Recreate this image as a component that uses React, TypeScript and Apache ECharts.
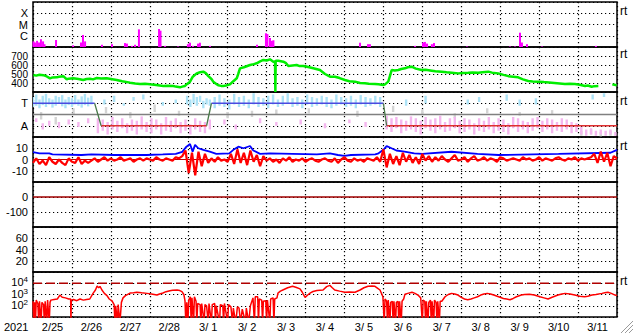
import React, { useEffect, useRef } from "react";
import * as echarts from "echarts";

// ---- axis / labels ----
const dayLabels = ["2/25", "2/26", "2/27", "2/28", "3/ 1", "3/ 2", "3/ 3", "3/ 4", "3/ 5", "3/ 6", "3/ 7", "3/ 8", "3/ 9", "3/10", "3/11"];
const yearLabel = "2021";
const flareClassLabels: Record<number, string> = { 1: "C", 2: "M", 3: "X" };
const sectorLabels: Record<number, string> = { 90: "A", 270: "T" };
const speedLabels = [400, 500, 600, 700];
const imfLabels = [-10, 0, 10];
const dstLabels = [0, -100];
const kpLabels = [20, 40, 60];
const fluxLabels = [2, 3, 4];
const rtMarks = ["rt", "rt", "rt", "rt", "rt"];

// ---- X-ray flares: [hour from 2/25 00UT, log10 flux] ----
const flareBaseLog = -7;
const flares = [
  [0.3, -6.5], [1.2, -6.6], [2.5, -6.45], [3.7, -6.6], [4.9, -6.31], [6.2, -6.5], [7.1, -6.75], [14.2, -6.38],
  [24.7, -6.85], [29.6, -6.6], [30.8, -5.93], [32.1, -6.5], [42.5, -6.8], [48.7, -6.75], [56.7, -6.65], [57.9, -6.7],
  [61, -6.9], [62.9, -6.8], [65.3, -5.43], [77.7, -5.4], [78.6, -5.55], [81.4, -6.9], [89.4, -6.95], [95.5, -6.75],
  [96.8, -6.62], [98.6, -6.9], [101.7, -6.7], [102.9, -6.62], [109.1, -6.9], [138.1, -6.8], [143.6, -5.78], [144.5, -5.85],
  [146.1, -6.2], [147.3, -6.45], [148.2, -6.4], [201.6, -6.62], [206.5, -6.75], [207.7, -6.75], [235.5, -6.9], [240.4, -6.6],
  [241.6, -6.55], [242.9, -6.7], [245.9, -6.75], [247.2, -6.65], [267.5, -6.95], [294, -6.95], [297.1, -6.95], [300.2, -5.73],
  [301.4, -6.6], [304.5, -6.75], [313.8, -6.95], [347, -6.9],
];

// ---- solar wind speed [hour, km/s] ----
const windSpeed = [
  [0.2, 489], [2, 482], [4, 492], [6.4, 487], [8, 478], [10.5, 452], [12, 462], [14.6, 463], [16, 470], [18.7, 476], [20.8, 441],
  [22, 448], [24.9, 452], [28, 445], [31, 433], [33, 445], [35.1, 448], [37, 440], [39.3, 455], [42, 450], [45.4, 452], [48, 445],
  [51.6, 433], [55, 420], [59.8, 404], [63, 395], [66, 389], [69, 392], [72.1, 385], [76, 378], [80.3, 367], [83, 370], [86.5, 367],
  [88, 360], [90.6, 352], [92, 360], [93.7, 367], [95, 390], [96.8, 415], [98.5, 470], [100.9, 507], [103, 520], [105, 526],
  [106.5, 510], [108.1, 476], [110, 445], [111.1, 415], [113, 390], [114.2, 374], [116, 368], [117.3, 367], [119, 372], [121.4, 385],
  [123.5, 420], [125.6, 452], [126.5, 500], [127.6, 563], [130, 575], [133.8, 600], [136, 610], [137.9, 619], [140, 640], [142, 656],
  [144, 650], [146.1, 663], [148.1, 637], [149.2, 640], [149.4, 300], [149.6, 648], [151.2, 648], [154.3, 637], [156, 620],
  [157.4, 589], [160, 595], [162.5, 600], [164, 590], [166.6, 589], [169, 580], [172.8, 563], [176.9, 544], [180, 500], [183.1, 470],
  [186.2, 470], [189, 455], [192.3, 433], [195, 420], [198.5, 415], [201.6, 400], [204.6, 396], [207, 392], [210.8, 389], [213, 385],
  [215.9, 378], [217, 385], [219, 415], [221.1, 544], [223, 538], [225.2, 544], [227, 555], [229.3, 563], [231, 575], [233.4, 581],
  [236, 560], [239.6, 544], [242, 548], [245.8, 537], [248, 530], [251.9, 526], [255, 520], [258.1, 515], [262.2, 507], [265, 512],
  [268.3, 515], [271, 518], [274.5, 515], [277, 520], [280.7, 526], [283, 515], [286.8, 507], [290, 490], [293, 476], [296, 470],
  [299.1, 463], [302, 440], [305.3, 422], [308, 418], [311.5, 415], [315, 410], [319.7, 404], [323, 398], [327.9, 389], [331, 392],
  [334.1, 389], [337, 380], [340.3, 367], [342, 372], [344.4, 359], [346, 365], [348.5, 367], [352, null], [357.1, 385], [359.8, 374],
];

// ---- IMF sector: angle streaks [hour, low deg, high deg] ----
const towardStreaks = [
  [0, 240, 320], [2, 250, 340], [4, 230, 300], [6, 255, 330], [8, 240, 345], [10, 260, 310], [12, 235, 300], [14, 250, 330],
  [16, 270, 320], [18, 245, 335], [20, 230, 300], [22, 255, 320], [24, 240, 310], [26, 260, 335], [28, 250, 300], [30, 235, 325],
  [32, 255, 345], [34, 245, 315], [36, 260, 330], [44, 260, 300], [50, 280, 330], [56, 250, 270], [62, 290, 320], [68, 300, 340],
  [80, 250, 280], [88, 270, 300], [95, 260, 330], [97, 240, 300], [99, 270, 345], [101, 250, 320], [103, 280, 330], [105, 230, 290],
  [107, 260, 310], [109, 250, 300], [112, 230, 320], [115, 250, 340], [118, 240, 310], [121, 220, 300], [124, 260, 345],
  [127, 240, 320], [130, 250, 330], [133, 230, 300], [136, 260, 350], [139, 240, 320], [142, 250, 310], [145, 230, 330],
  [148, 260, 340], [151, 240, 300], [154, 250, 330], [157, 270, 350], [160, 240, 310], [163, 250, 320], [166, 230, 300],
  [169, 260, 340], [172, 240, 320], [175, 250, 310], [178, 260, 330], [181, 240, 320], [184, 230, 300], [187, 250, 340],
  [190, 260, 320], [193, 240, 310], [196, 250, 330], [199, 230, 300], [202, 260, 335], [205, 240, 320], [208, 250, 310],
  [211, 260, 330], [214, 240, 320], [230, 250, 300], [242, 270, 330], [268, 260, 300], [275, 280, 320], [292, 290, 340],
  [300, 250, 300], [310, 260, 310], [345, 300, 340], [352, 320, 350],
];
const awayStreaks = [
  [2, 120, 150], [6, 60, 110], [10, 90, 130], [16, 70, 120], [22, 100, 140], [28, 80, 120], [34, 110, 150],
  [40, 30, 150], [43, 50, 140], [46, 20, 120], [49, 60, 160], [52, 40, 130], [55, 70, 150], [58, 30, 110], [61, 50, 140],
  [64, 20, 130], [67, 60, 165], [70, 40, 120], [73, 30, 150], [76, 60, 140], [79, 20, 110], [82, 50, 160], [85, 40, 130],
  [88, 70, 150], [91, 30, 120], [94, 50, 140], [97, 20, 100], [100, 60, 150], [103, 40, 130], [106, 30, 120], [109, 60, 140],
  [118, 100, 140], [125, 60, 100], [140, 110, 150], [150, 90, 120], [165, 100, 140], [180, 70, 110], [195, 110, 140], [205, 80, 120],
  [218, 60, 170], [221, 40, 150], [224, 70, 160], [227, 30, 140], [230, 50, 130], [233, 60, 165], [236, 40, 150], [239, 20, 130],
  [242, 70, 160], [245, 50, 140], [248, 30, 150], [251, 60, 170], [254, 40, 120], [257, 50, 150], [260, 70, 160], [263, 30, 130],
  [266, 40, 150], [269, 60, 140], [272, 20, 110], [275, 50, 150], [278, 40, 130], [281, 60, 160], [284, 30, 120], [287, 50, 150],
  [290, 40, 140], [293, 20, 110], [296, 70, 160], [299, 40, 150], [302, 60, 130], [305, 30, 120], [308, 50, 150], [311, 70, 160],
  [314, 40, 130], [317, 60, 150], [320, 30, 140], [323, 50, 120], [326, 40, 150], [329, 60, 140], [332, 30, 120], [335, 40, 110],
  [338, 20, 80], [341, 10, 60], [344, 20, 70], [347, 10, 50], [350, 20, 60], [353, 10, 50], [356, 20, 60], [359, 10, 40],
];
const grayStreaks = [
  [5, 140, 200], [14, 100, 160], [25, 180, 230], [45, 190, 240], [60, 150, 200], [75, 200, 260], [90, 170, 210], [120, 150, 200],
  [135, 160, 210], [150, 180, 220], [170, 190, 230], [200, 160, 210], [222, 200, 250], [240, 180, 220], [260, 150, 190],
  [280, 190, 230], [300, 170, 200], [320, 185, 215], [338, 10, 50], [344, 20, 60], [350, 5, 40], [356, 10, 50],
];
const sectorPolarity = [[0, "T"], [38, "T"], [42, "A"], [107, "A"], [110, "T"], [216, "T"], [218, "A"], [360, "A"]];
const sectorAngle: Record<string, number> = { T: 270, A: 90 };
const sectorMid = 180;

// ---- IMF Bt [hour, nT] and Bz every 2 h ----
const bt = [
  [0, 6.5], [4, 5.5], [10, 5.5], [12, 4.5], [30, 4], [36, 4.5], [50, 4], [70, 4], [80, 4.5], [88, 5], [92, 6.8], [94.6, 11.4],
  [96.8, 13.8], [98.4, 7], [99.9, 13], [101.9, 10], [105, 8.6], [109, 7], [113, 5], [121, 5.5], [123.5, 8.6], [126.6, 11.4],
  [129.7, 10], [133.8, 12], [135.8, 8], [140, 5], [146, 5.5], [160, 5], [175, 4.5], [183, 5.5], [188, 4], [192, 3.2], [196, 4],
  [211, 4.5], [213, 5.5], [216, 8.6], [218, 12], [221, 10], [224, 8], [229, 7], [235, 5.5], [240, 5], [258, 6.9], [274, 5],
  [287, 4], [324, 5], [356, 6], [360, 8.6],
];
const bzStepHours = 2;
const bz = [
  -3, 1, -4, -1, -5, 2, -2, -4, 0, -3, -5, 1, -2, -3, 2, -4, -1, -3,
  -1, 1, -2, 0, 2, -1, 1, -1, 0, 2, -1, 0, 1, -2, 0, 1, -1, 1, 0, -1, 2, 0, -1, 1, 0, -1, 2, 1,
  3, 8, -12, 6, -14,
  7, -6, 5, -3,
  1, -2, 2, -1, 0, -2,
  5, -4, 9, -3, 6, -5, 8, -2, 4, -6, 3,
  -1, 1, -2, 0, -3, 1, -1, 2, -2, 0, -1, 1, -2, 0, 1, -1, -2, 0, 1, -1,
  -2, 1, -3, 0, 2, -1, -2, 1, -1, 0, -2, 1, 0, -1, 2, -2,
  9, -7,
  5, -4, 3, -5, 6, -2, 4, -3, 2, -4, 5, -1, 3, -2,
  2, -1, 3, 0, -2, 1, 4, -1, 0, 2, -2, 1, 3, -1, 0, 2, -1, 1, 0, -2, 2, 1, -1, 0,
  1, 0, -1, 2, 0, 1, -1, 0, 2, -1, 1, 0, -1, 1, 2, 0, -1, 1, 0, 2, -1, 1, 0, 1, 2,
  5, -3, 7, -2, 6, -6, 3, 1,
];
const bzZero = 0;
const dstZero = 0;

// ---- electron flux: [hour, log10 flux] (0.5 = dropout below the axis) ----
const fluxAlert = 4;
const electronFlux = [
  [0, 2.4], [0.5, 0.5], [1, 2.3], [1.5, 0.5], [2, 2.5], [3, 2.2], [3.5, 0.5], [4, 2.4], [5, 0.5], [5.5, 2.3], [6.5, 2.1], [7, 0.5],
  [7.5, 2.4], [8.5, 0.5], [9, 2.5], [10, 0.5], [10.5, 2.3], [11, 2.5], [13, 2.55], [15, 2.6], [16.6, 2.95], [18, 2.75], [20, 2.7],
  [22, 2.6], [23.2, 2.6], [23.4, 0.5], [23.6, 2.5], [25, 2.55], [27, 2.45], [29, 2.6], [31, 2.5], [33, 2.55], [35, 2.6], [37, 3.1],
  [38.5, 3.4], [39.5, 3.75], [40.5, 3.6], [41.3, 3.72], [42.5, 3.4], [44, 3.1], [45.6, 2.9], [47, 2.6], [48.7, 2.43], [50, 2.1],
  [50.5, 0.5], [51, 2.0], [52, 0.5], [52.5, 2.1], [53.6, 0.5], [54.5, 2.3], [55.5, 2.7], [57, 2.9], [59.8, 3.13], [62, 3.15],
  [64, 3.2], [67, 3.15], [70.3, 3.1], [73, 3.05], [76.4, 2.95], [78, 3.05], [80.1, 3.13], [82, 3.25], [84.4, 3.34], [86, 3.38],
  [88.8, 3.4], [90.5, 3.35], [91.8, 3.25], [93, 3.0], [93.7, 2.43], [94.2, 0.5], [94.8, 2.3], [95.5, 0.5], [96, 2.5], [97, 2.8],
  [97.5, 0.5], [98, 2.7], [99, 0.5], [99.5, 2.8], [100.5, 2.4], [101, 0.5], [101.5, 2.2], [103, 2.1], [103.5, 0.5], [104, 2.2],
  [105.5, 0.5], [106, 2.1], [107, 2.0], [108, 0.5], [108.5, 2.2], [110, 0.5], [110.5, 2.1], [112, 2.2], [112.5, 0.5], [113, 2.0],
  [115, 0.5], [115.5, 2.1], [117, 2.0], [117.5, 0.5], [118, 2.2], [120, 0.5], [120.5, 2.1], [122, 1.9], [123, 0.5], [123.5, 1.8],
  [125, 0.5], [126, 1.9], [127, 1.8], [128, 0.5], [129, 1.7], [131, 0.5], [131.5, 1.8], [133, 0.5], [134, 2.0], [135.6, 2.7],
  [136.5, 0.5], [137, 2.8], [138.5, 2.8], [139, 0.5], [139.5, 2.6], [141, 2.5], [141.5, 0.5], [142, 2.4], [143.5, 2.45], [144, 0.5],
  [144.5, 2.5], [146, 0.5], [146.5, 2.6], [148, 2.7], [148.5, 0.5], [149, 2.6], [150.4, 2.7], [151, 3.13], [152.5, 3.3], [154, 3.4],
  [157, 3.6], [160, 3.73], [162, 3.65], [164.6, 3.5], [166, 3.2], [167.7, 2.74], [169.5, 2.98], [171, 3.15], [172.6, 3.27],
  [175, 3.35], [178.8, 3.4], [181, 3.7], [183, 3.81], [184.5, 3.6], [186, 3.4], [189, 3.3], [192.3, 3.2], [195, 3.22], [198.5, 3.2],
  [201.6, 3.4], [204, 3.6], [206.5, 3.73], [209, 3.75], [210.8, 3.73], [212.5, 3.55], [213.9, 3.4], [215.7, 2.8], [216.5, 0.5],
  [217, 2.6], [218, 2.4], [218.5, 0.5], [219, 2.5], [220, 0.5], [220.5, 2.3], [221.5, 2.4], [222, 0.5], [222.5, 2.4], [223.5, 0.5],
  [224, 2.3], [225, 2.4], [225.5, 0.5], [226, 2.4], [227, 0.5], [227.5, 2.4], [228.5, 2.6], [229.3, 3.03], [231, 3.1], [233.6, 3.2],
  [235.5, 3.1], [237.3, 2.95], [239, 2.7], [240, 0.5], [240.5, 2.5], [241.5, 2.4], [242, 0.5], [242.5, 2.4], [243.5, 0.5], [244, 2.3],
  [245, 2.5], [245.5, 0.5], [246, 2.4], [247, 0.5], [247.5, 2.5], [248.5, 2.3], [249, 0.5], [249.5, 2.4], [250.5, 0.5], [251, 2.4],
  [252, 2.4], [254, 2.8], [256, 3.0], [258, 3.1], [260, 3.05], [262, 2.95], [264, 2.75], [266, 2.6], [268, 2.54], [270, 2.6],
  [272, 2.7], [274, 2.8], [276, 2.95], [278, 3.05], [280, 3.1], [282, 3.05], [284, 2.95], [287, 2.8], [290, 2.65], [292, 2.6],
  [294, 2.54], [296, 2.65], [298, 2.8], [301, 2.95], [303, 3.0], [306, 3.03], [309, 2.95], [312.5, 2.8], [315, 2.7], [317.5, 2.6],
  [320, 2.75], [323.6, 2.95], [326, 3.05], [328, 3.1], [331, 3.05], [334, 2.95], [337, 2.85], [340, 2.8], [342, 2.85], [344.6, 2.95],
  [347, 3.0], [350.7, 3.1], [352.5, 3.15], [354.4, 3.2], [356.5, 3.1], [358.8, 2.95], [360, 2.9],
];

const FONT = "'Liberation Sans', Arial, sans-serif";
const PANEL_TOP = 2;
const PANEL_H = 45;
const LEFT = 33;
const WIDTH = 584;
const dotted = { color: "#000", width: 1.2, type: [1.2, 2.8] as number[] };

function streakRenderer(color: string) {
  return (params: any, api: any) => {
    const x = api.value(0);
    const a = api.coord([x, api.value(2)]);
    const b = api.coord([x, api.value(1)]);
    return {
      type: "rect",
      shape: { x: a[0] - 1.2, y: a[1], width: 2.4, height: Math.max(1, b[1] - a[1]) },
      style: { fill: color },
    };
  };
}

function sectorSegments(kind: string) {
  const out: any[] = [];
  for (let i = 0; i < sectorPolarity.length - 1; i++) {
    const p = sectorPolarity[i];
    const q = sectorPolarity[i + 1];
    const k = p[1] === q[1] ? p[1] : "X";
    if (k === kind) {
      out.push([p[0], sectorAngle[p[1] as string]], [q[0], sectorAngle[q[1] as string]], [q[0], null]);
    }
  }
  return out;
}

export default function App() {
  const ref = useRef<HTMLDivElement>(null);
  useEffect(() => {
    if (!ref.current) return;
    const chart = echarts.init(ref.current, null, { renderer: "svg" });
    const grids = Array.from({ length: 7 }, (_, i) => ({
      left: LEFT,
      top: PANEL_TOP + PANEL_H * i,
      width: WIDTH,
      height: PANEL_H,
      show: true,
      borderColor: "#000",
      borderWidth: 1.5,
      backgroundColor: "transparent",
    }));
    const xAxes: any[] = grids.map((_, i) => ({
      type: "value",
      gridIndex: i,
      min: 0,
      max: 360,
      interval: 24,
      axisLine: { show: false },
      axisTick: { show: false },
      axisLabel: { show: false },
      splitLine: { show: true, lineStyle: dotted },
    }));
    xAxes.push({
      type: "category",
      gridIndex: 6,
      position: "bottom",
      data: dayLabels,
      axisLine: { show: false },
      axisTick: { show: false },
      splitLine: { show: false },
      axisLabel: { color: "#000", fontSize: 11, fontFamily: FONT, margin: 4, interval: 0 },
    });
    const yBase = (i: number, min: number, max: number, interval: number, formatter: any, extra: any = {}) => ({
      type: "value",
      gridIndex: i,
      min,
      max,
      interval,
      axisLine: { show: false },
      axisTick: { show: false },
      axisLabel: {
        color: "#000",
        fontSize: 11,
        lineHeight: 8,
        fontFamily: FONT,
        margin: 5,
        formatter,
        showMinLabel: true,
        showMaxLabel: true,
        hideOverlap: false,
        ...extra,
      },
      splitLine: { show: true, lineStyle: dotted },
    });
    const yAxes = [
      yBase(0, 0, 4, 1, (v: number) => flareClassLabels[v] || ""),
      yBase(1, 300, 800, 100, (v: number) => (speedLabels.includes(v) ? String(v) : ""), { fontSize: 10 }),
      yBase(2, 0, 360, 90, (v: number) => sectorLabels[v] || ""),
      yBase(3, -20, 20, 10, (v: number) => (imfLabels.includes(v) ? String(v) : "")),
      yBase(4, -200, 100, 100, (v: number) => (dstLabels.includes(v) ? String(v) : "")),
      yBase(5, 0, 80, 20, (v: number) => (kpLabels.includes(v) ? String(v) : "")),
      yBase(6, 1, 5, 1, (v: number) => (fluxLabels.includes(v) ? `{b|10}{s|${v}}` : ""), {
        rich: {
          b: { fontSize: 11, lineHeight: 9, color: "#000", fontFamily: FONT, verticalAlign: "bottom" },
          s: { fontSize: 8, lineHeight: 8, color: "#000", fontFamily: FONT, verticalAlign: "bottom", padding: [0, 0, 4, 0] },
        },
      }),
    ];
    const ln = (i: number, data: any[], color: string, width: number, extra: any = {}) => ({
      type: "line",
      xAxisIndex: i,
      yAxisIndex: i,
      data,
      symbol: "none",
      showSymbol: false,
      connectNulls: false,
      clip: true,
      lineStyle: { color, width, ...(extra.lineStyle || {}) },
      z: extra.z ?? 2,
      silent: true,
    });
    const streak = (data: any[], color: string) => ({
      type: "custom",
      xAxisIndex: 2,
      yAxisIndex: 2,
      data,
      clip: true,
      silent: true,
      encode: { x: 0, y: [1, 2] },
      renderItem: streakRenderer(color),
    });
    const series: any[] = [
      {
        type: "bar",
        xAxisIndex: 0,
        yAxisIndex: 0,
        data: flares.map(([h, v]) => [h, v - flareBaseLog]),
        barWidth: 2,
        itemStyle: { color: "#ff00ff" },
        silent: true,
      },
      ln(1, windSpeed, "#00ee00", 2.5),
      streak(grayStreaks, "#d4d4d4"),
      streak(towardStreaks, "#ace2f6"),
      streak(awayStreaks, "#f4b6ee"),
      ln(2, [[0, sectorMid], [360, sectorMid]], "#808080", 1.5),
      ln(2, sectorSegments("T"), "#4a4ae0", 1.3),
      ln(2, sectorSegments("A"), "#e03030", 1.3),
      ln(2, sectorSegments("X"), "#4a7a4a", 1.3),
      ln(3, [[0, bzZero], [360, bzZero]], "#c00000", 1),
      ln(3, bt, "#0000ff", 1.8),
      ln(3, bz.map((v, i) => [i * bzStepHours, v]), "#ff0000", 2.2),
      ln(4, [[0, dstZero], [360, dstZero]], "#a00000", 1.5),
      ln(6, [[0, fluxAlert], [360, fluxAlert]], "#b00000", 1.5, { lineStyle: { type: [9, 4] } }),
      ln(6, electronFlux, "#ff0000", 1.5),
    ];
    const rtY = [13.25 - 2.5, 56 - 2.5, 103.25 - 2.5, 148.25 - 2.5, 283.25 - 2.5];
    const graphic: any[] = [
      {
        type: "text",
        x: 4,
        y: 327,
        style: { text: yearLabel, fill: "#000", font: `11px ${FONT}`, textAlign: "left", textVerticalAlign: "middle" },
      },
      ...rtMarks.map((t, i) => ({
        type: "text",
        x: 620,
        y: rtY[i],
        style: { text: t, fill: "#000", font: `12px ${FONT}`, textAlign: "left", textVerticalAlign: "middle" },
      })),
      { type: "line", shape: { x1: 633, y1: 321, x2: 621, y2: 333 }, style: { stroke: "#9a9a9a", lineWidth: 1 } },
      { type: "line", shape: { x1: 633, y1: 325, x2: 625, y2: 333 }, style: { stroke: "#9a9a9a", lineWidth: 1 } },
      { type: "line", shape: { x1: 633, y1: 329, x2: 629, y2: 333 }, style: { stroke: "#9a9a9a", lineWidth: 1 } },
    ];
    chart.setOption({
      animation: false,
      backgroundColor: "#fff",
      textStyle: { fontFamily: FONT },
      grid: grids,
      xAxis: xAxes,
      yAxis: yAxes,
      series,
      graphic,
    });
    return () => chart.dispose();
  }, []);
  return <div ref={ref} style={{ position: "absolute", left: 0, top: 0, width: 633, height: 334 }} />;
}
